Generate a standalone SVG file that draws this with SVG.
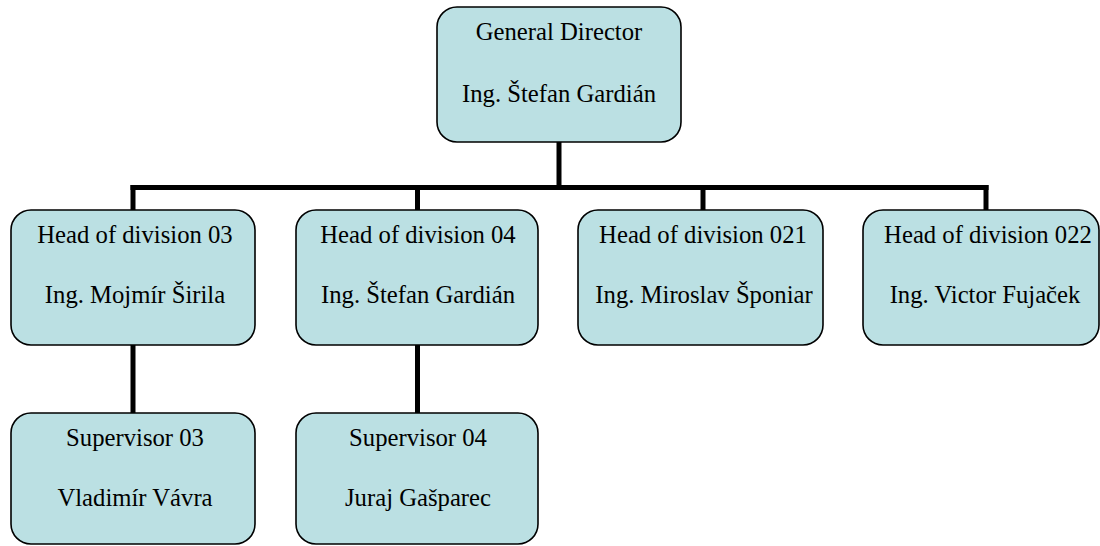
<svg xmlns="http://www.w3.org/2000/svg" width="1100" height="546" viewBox="0 0 1100 546">
<style>
.box{fill:#BBE0E3;stroke:#000;stroke-width:1.6}
.t{font-size:24.7px;fill:#000;text-anchor:middle}
.c{stroke:#000;stroke-width:5;fill:none;stroke-linecap:square}
</style>
<rect width="1100" height="546" fill="#fff"/>
<g id="connectors">
<line class="c" x1="559" y1="142" x2="559" y2="187.5"/>
<line class="c" x1="133" y1="187.5" x2="986" y2="187.5"/>
<line class="c" x1="133" y1="187.5" x2="133" y2="210"/>
<line class="c" x1="417.5" y1="187.5" x2="417.5" y2="210"/>
<line class="c" x1="703" y1="187.5" x2="703" y2="210"/>
<line class="c" x1="986" y1="187.5" x2="986" y2="210"/>
<line class="c" x1="133" y1="345" x2="133" y2="413"/>
<line class="c" x1="417.5" y1="345" x2="417.5" y2="413"/>
</g>
<g font-family="Liberation Serif, Times New Roman, DejaVu Serif, serif">
<g id="general-director">
<rect class="box" x="437" y="7" width="244" height="135" rx="20"/>
<text class="t" x="559" y="40">General Director</text>
<text class="t" x="559" y="102">Ing. Štefan Gardián</text>
</g>
<g id="head-03">
<rect class="box" x="11" y="210" width="244" height="135" rx="20"/>
<text class="t" x="135" y="243">Head of division 03</text>
<text class="t" x="135" y="303">Ing. Mojmír Širila</text>
</g>
<g id="head-04">
<rect class="box" x="296" y="210" width="242" height="135" rx="20"/>
<text class="t" x="418" y="243">Head of division 04</text>
<text class="t" x="418" y="303">Ing. Štefan Gardián</text>
</g>
<g id="head-021">
<rect class="box" x="578" y="210" width="245" height="135" rx="20"/>
<text class="t" x="703" y="243">Head of division 021</text>
<text class="t" x="704" y="303">Ing. Miroslav Šponiar</text>
</g>
<g id="head-022">
<rect class="box" x="863" y="210" width="236" height="135" rx="20"/>
<text class="t" x="988" y="243">Head of division 022</text>
<text class="t" x="985" y="303">Ing. Victor Fujaček</text>
</g>
<g id="supervisor-03">
<rect class="box" x="11" y="413" width="244" height="131" rx="20"/>
<text class="t" x="135" y="446">Supervisor 03</text>
<text class="t" x="135" y="506">Vladimír Vávra</text>
</g>
<g id="supervisor-04">
<rect class="box" x="296" y="413" width="242" height="131" rx="20"/>
<text class="t" x="418" y="446">Supervisor 04</text>
<text class="t" x="418" y="506">Juraj Gašparec</text>
</g>
</g>
</svg>
